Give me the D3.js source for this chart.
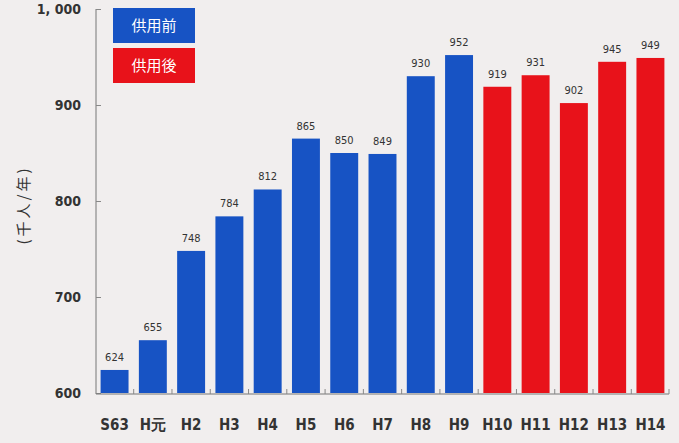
<!DOCTYPE html>
<html><head><meta charset="utf-8">
<script src="https://cdn.jsdelivr.net/npm/d3@7"></script>
<style>
html,body{margin:0;padding:0;background:#f1eeee;}
svg{display:block;}
text{font-family:"DejaVu Sans",sans-serif;font-stretch:condensed;}
</style></head>
<body>
<script>
const categories = ["S63","H元","H2","H3","H4","H5","H6","H7","H8","H9","H10","H11","H12","H13","H14"];
const values = [624,655,748,784,812,865,850,849,930,952,919,931,902,945,949];
const phase = ["前","前","前","前","前","前","前","前","前","前","後","後","後","後","後"];
const legendLabels = ["供用前","供用後"];
const yTicks = [600,700,800,900,1000];
const yTickLabels = ["600","700","800","900","1, 000"];

const W=679,H=443;
const colors={"前":"#1753c4","後":"#e8121a"};
const svg=d3.select("body").append("svg").attr("width",W).attr("height",H);
svg.append("rect").attr("width",W).attr("height",H).attr("fill","#f1eeee");

const x=d3.scaleBand().domain(categories).range([96,669]).paddingInner(0.27).paddingOuter(0.12);
const y=d3.scaleLinear().domain([600,1000]).range([393,9]);

// bars
svg.selectAll("rect.bar").data(categories).join("rect").attr("class","bar")
 .attr("x",d=>x(d)).attr("width",x.bandwidth())
 .attr("y",(d,i)=>y(values[i])).attr("height",(d,i)=>y(600)-y(values[i]))
 .attr("fill",(d,i)=>colors[phase[i]]);

// value labels
svg.selectAll("text.val").data(categories).join("text").attr("class","val")
 .attr("x",d=>x(d)+x.bandwidth()/2).attr("y",(d,i)=>y(values[i])-9)
 .attr("text-anchor","middle").attr("font-size",11).attr("fill","#333")
 .text((d,i)=>values[i]);

// y axis
const yAxis=d3.axisRight(y).tickValues(yTicks).tickSize(5).tickFormat("");
const ya=svg.append("g").attr("transform","translate(96,0)").call(yAxis);
ya.select(".domain").attr("stroke","#777").attr("d","M0,9V394");
ya.selectAll(".tick line").attr("stroke","#888");
svg.selectAll("text.ylab").data(yTicks).join("text").attr("class","ylab")
 .attr("x",81).attr("y",d=>y(d)+5).attr("text-anchor","end")
 .attr("font-size",14).attr("font-weight","bold").attr("fill","#333").text((d,i)=>yTickLabels[i]);

// bottom axis line & ticks
svg.append("line").attr("x1",96).attr("x2",669).attr("y1",394).attr("y2",394).attr("stroke","#777");
const bounds=categories.slice(1).map(c=>x(c)-x.step()*x.paddingInner()/2).concat([669]);
svg.selectAll("line.bt").data(bounds).join("line").attr("class","bt")
 .attr("x1",d=>d).attr("x2",d=>d).attr("y1",394).attr("y2",389).attr("stroke","#888");

// x labels
svg.selectAll("text.xlab").data(categories).join("text").attr("class","xlab")
 .attr("x",d=>x(d)+x.bandwidth()/2).attr("y",430)
 .attr("text-anchor","middle").attr("font-size",15).attr("font-weight","bold").attr("fill","#333").text(d=>d);

// y title
svg.append("text").attr("transform","translate(29,205) rotate(-90)")
 .attr("text-anchor","middle").attr("font-size",15).attr("letter-spacing",3).attr("fill","#333")
 .style("font-family","'Noto Sans CJK JP',sans-serif").text("(千人/年)");

// legend
const lg=svg.selectAll("g.lg").data(legendLabels).join("g").attr("class","lg")
 .attr("transform",(d,i)=>`translate(113,${8+i*40})`);
lg.append("rect").attr("width",82).attr("height",35).attr("fill",(d,i)=>i===0?colors["前"]:colors["後"]);
lg.append("text").attr("x",41).attr("y",23).attr("text-anchor","middle")
 .attr("font-size",15).attr("fill","#fff")
 .style("font-family","'Noto Sans CJK JP',sans-serif").text(d=>d);
</script>
</body></html>
